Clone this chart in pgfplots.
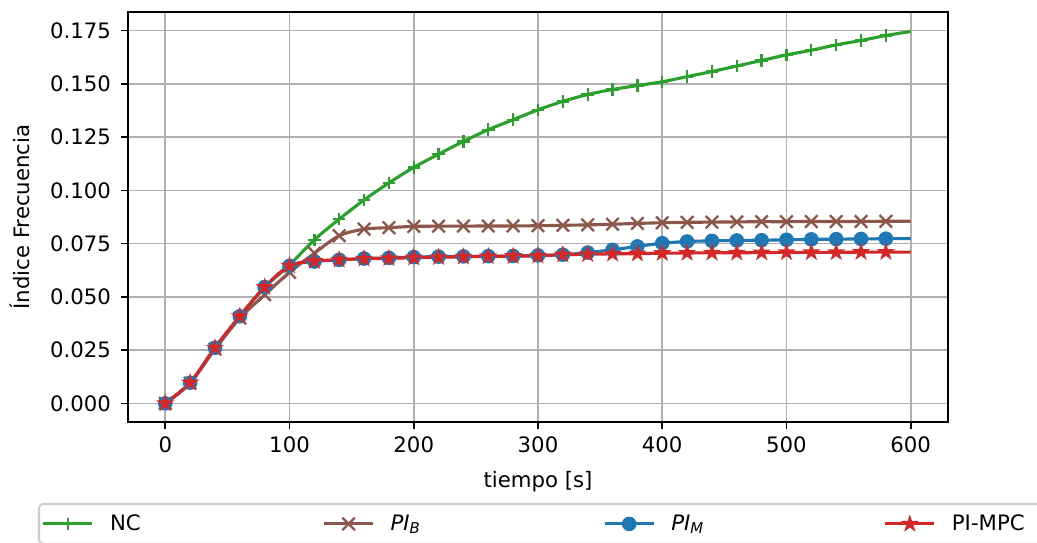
\documentclass[border=0pt]{standalone}
\usepackage{fontspec}
\setmainfont{DejaVu Sans}
\usepackage{pgfplots}
\usepackage{pgfplotstable}
\pgfplotsset{compat=1.18}
\definecolor{cgreen}{HTML}{2CA02C}
\definecolor{cbrown}{HTML}{8C564B}
\definecolor{cblue}{HTML}{1F77B4}
\definecolor{cred}{HTML}{D62728}
\pgfdeclareplotmark{fstar}{%
  \pgfpathmoveto{\pgfpointpolar{90}{\pgfplotmarksize}}%
  \pgfpathlineto{\pgfpointpolar{126}{0.382\pgfplotmarksize}}%
  \pgfpathlineto{\pgfpointpolar{162}{\pgfplotmarksize}}%
  \pgfpathlineto{\pgfpointpolar{198}{0.382\pgfplotmarksize}}%
  \pgfpathlineto{\pgfpointpolar{234}{\pgfplotmarksize}}%
  \pgfpathlineto{\pgfpointpolar{270}{0.382\pgfplotmarksize}}%
  \pgfpathlineto{\pgfpointpolar{306}{\pgfplotmarksize}}%
  \pgfpathlineto{\pgfpointpolar{342}{0.382\pgfplotmarksize}}%
  \pgfpathlineto{\pgfpointpolar{18}{\pgfplotmarksize}}%
  \pgfpathlineto{\pgfpointpolar{54}{0.382\pgfplotmarksize}}%
  \pgfpathclose\pgfusepathqfillstroke}

\pgfplotstableread{
t v
0 0
20 0.0097
40 0.0261
60 0.0409
80 0.0546
100 0.0650
120 0.0768
140 0.0865
160 0.0955
180 0.1035
200 0.1108
220 0.1170
240 0.1230
260 0.1285
280 0.1332
300 0.1378
320 0.1418
340 0.1450
360 0.1474
380 0.1492
400 0.1510
420 0.1534
440 0.1558
460 0.1584
480 0.1610
500 0.1636
520 0.1658
540 0.1683
560 0.1704
580 0.1727
600 0.1746
}\nc

\pgfplotstableread{
t v
0 0
20 0.0095
40 0.0255
60 0.0400
80 0.0510
100 0.0615
120 0.0705
140 0.0787
160 0.0818
180 0.0825
200 0.0831
220 0.0832
240 0.0832
260 0.0833
280 0.0833
300 0.0834
320 0.0836
340 0.0838
360 0.0841
380 0.0845
400 0.0848
420 0.0850
440 0.0851
460 0.0852
480 0.0853
500 0.0853
520 0.0854
540 0.0854
560 0.0854
580 0.0855
600 0.0855
}\pib

\pgfplotstableread{
t v
0 0
20 0.0097
40 0.0261
60 0.0409
80 0.0546
100 0.0646
120 0.0666
140 0.0674
160 0.0680
180 0.0683
200 0.0687
220 0.0689
240 0.0690
260 0.0691
280 0.0692
300 0.0695
320 0.0698
340 0.0708
360 0.0721
380 0.0737
400 0.0752
420 0.0760
440 0.0763
460 0.0765
480 0.0766
500 0.0768
520 0.0770
540 0.0771
560 0.0772
580 0.0773
600 0.0774
}\pim

\pgfplotstableread{
t v
0 0
20 0.0097
40 0.0261
60 0.0409
80 0.0546
100 0.0646
120 0.0668
140 0.0674
160 0.0679
180 0.0681
200 0.0684
220 0.0686
240 0.0688
260 0.0690
280 0.0691
300 0.0693
320 0.0698
340 0.0700
360 0.0702
380 0.0703
400 0.0705
420 0.0706
440 0.0707
460 0.0707
480 0.0708
500 0.0709
520 0.0709
540 0.0709
560 0.0710
580 0.0710
600 0.0710
}\pimpc

\begin{document}
\begin{tikzpicture}
\begin{axis}[
  name=ax,
  width=393.6pt, height=196.8pt, scale only axis,
  xmin=-30, xmax=630, ymin=-0.00875, ymax=0.18375,
  xtick={0,100,200,300,400,500,600},
  xticklabels={0,100,200,300,400,500,600},
  ytick={0,0.025,0.05,0.075,0.1,0.125,0.15,0.175},
  yticklabels={0.000,0.025,0.050,0.075,0.100,0.125,0.150,0.175},
  scaled y ticks=false,
  tick align=outside, major tick length=3.5pt,
  tick style={black, line width=0.8pt},
  xtick pos=bottom, ytick pos=left,
  axis line style={black, line width=0.8pt},
  grid=major,
  major grid style={draw=black!31, line width=0.8pt},
  tick label style={font=\fontsize{10.2}{12}\selectfont},
  yticklabel style={xshift=-1.2pt},
  label style={font=\fontsize{10.2}{12}\selectfont},
  xlabel={tiempo [s]},
  ylabel={Índice Frecuencia},
  xlabel style={at={(axis description cs:0.5,-0.146)}, anchor=center},
  ylabel style={at={(axis description cs:-0.1317,0.5)}, anchor=center},
  every axis plot/.append style={line width=1.5pt, smooth, tension=0.5, mark size=3pt,
     mark indices={1,2,3,4,5,6,7,8,9,10,11,12,13,14,15,16,17,18,19,20,21,22,23,24,25,26,27,28,29,30}},
  legend columns=4,
  legend image code/.code={\draw[mark indices={2},sharp plot] plot coordinates {(0pt,0pt)(11.75pt,0pt)(23.5pt,0pt)};},
  legend style={at={(axis description cs:-0.1098,-0.1976)}, anchor=north west,
    draw=black!20, line width=1pt, rounded corners=2pt, fill=white,
    inner xsep=1.4pt, inner ysep=3pt,
    font=\fontsize{10.2}{12}\selectfont,
    /tikz/every odd column/.append style={column sep=5.7pt},
    /tikz/every even column/.append style={column sep=0pt}},
]
\addplot[cgreen, mark=+, mark options={line width=1.1pt}] table[x=t,y=v] {\nc};
\addlegendentry{\makebox[100pt][l]{NC}}
\addplot[cbrown, mark=x, mark size=4.24pt, mark options={line width=1.1pt}] table[x=t,y=v] {\pib};
\addlegendentry{\makebox[100pt][l]{\itshape PI\textsubscript{B}}}
\addplot[cblue, mark=*, mark options={fill=cblue, draw=cblue, line width=1pt}] table[x=t,y=v] {\pim};
\addlegendentry{\makebox[100pt][l]{\itshape PI\textsubscript{M}}}
\addplot[cred, mark=fstar, mark options={fill=cred, draw=cred, line width=1pt}] table[x=t,y=v] {\pimpc};
\addlegendentry{\makebox[100pt][l]{PI-MPC}}
\end{axis}
\pgfresetboundingbox
\useasboundingbox (ax.south west) ++(-61.44pt,-57.6pt) rectangle ++(497.76pt,260.16pt);
\end{tikzpicture}
\end{document}
